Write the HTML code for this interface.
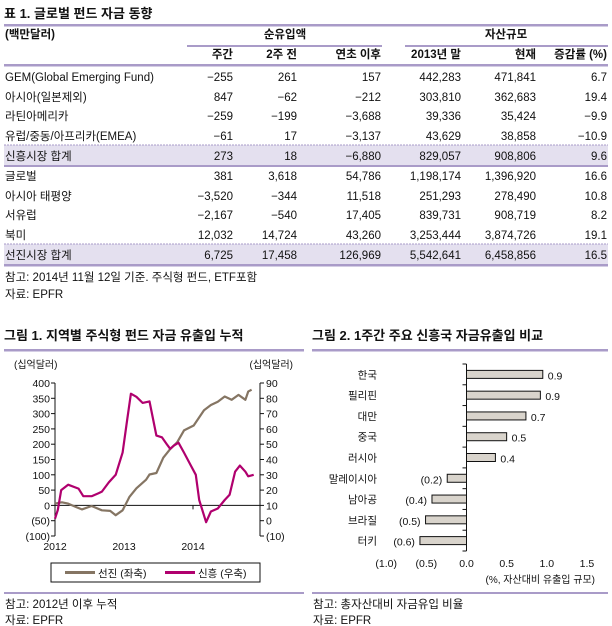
<!DOCTYPE html>
<html><head><meta charset="utf-8">
<style>
body{margin:0;background:#fff;}
svg{display:block;font-family:"Liberation Sans","Noto Sans CJK KR",sans-serif;}
.t{font-size:11.5px;fill:#111;}
.b{font-weight:bold;}
</style></head>
<body>
<svg id="page" width="612" height="626" viewBox="0 0 612 626" xmlns="http://www.w3.org/2000/svg">
<g id="table">
  <text x="4" y="18" class="t b" style="font-size:13px">표 1. 글로벌 펀드 자금 동향</text>
  <rect x="4" y="24" width="604" height="2.5" fill="#a99bc8"/>
  <text x="5" y="38" class="t b">(백만달러)</text>
  <text x="285" y="38" class="t b" text-anchor="middle">순유입액</text>
  <text x="506" y="38" class="t b" text-anchor="middle">자산규모</text>
  <rect x="187" y="45" width="195" height="2" fill="#a99bc8"/>
  <rect x="405" y="45" width="203" height="2" fill="#a99bc8"/>
  <rect x="4" y="64" width="604" height="2.5" fill="#a99bc8"/>
  <rect x="4" y="145" width="604" height="20" fill="#e4e0ef"/>
  <rect x="4" y="244" width="604" height="20" fill="#e4e0ef"/>
  <line x1="4" y1="145" x2="608" y2="145" stroke="#a99bc8" stroke-width="1" stroke-dasharray="2,1"/>
  <rect x="4" y="165" width="604" height="2" fill="#a99bc8"/>
  <line x1="4" y1="244" x2="608" y2="244" stroke="#a99bc8" stroke-width="1" stroke-dasharray="2,1"/>
  <rect x="4" y="264" width="604" height="2.5" fill="#a99bc8"/>
  <text x="5" y="281" class="t">참고: 2014년 11월 12일 기준. 주식형 펀드, ETF포함</text>
  <text x="5" y="298" class="t">자료: EPFR</text>
</g>
<g id="chart1">
  <text x="4" y="340" class="t b" style="font-size:13px">그림 1. 지역별 주식형 펀드 자금 유출입 누적</text>
  <rect x="4" y="349" width="300" height="2.5" fill="#a99bc8"/>
  <text x="14" y="368" class="t" style="font-size:10px">(십억달러)</text>
  <text x="293" y="368" class="t" style="font-size:10px" text-anchor="end">(십억달러)</text>
  <g id="c1axes"></g>
  <rect x="51" y="563" width="209" height="19" fill="#fff" stroke="#111" stroke-width="1"/>
  <line x1="65" y1="572.5" x2="95" y2="572.5" stroke="#857563" stroke-width="3"/>
  <text x="98" y="577" class="t" style="font-size:10.5px">선진 (좌축)</text>
  <line x1="165" y1="572.5" x2="195" y2="572.5" stroke="#b0006e" stroke-width="3"/>
  <text x="198" y="577" class="t" style="font-size:10.5px">신흥 (우축)</text>
  <rect x="4" y="592" width="300" height="2" fill="#a99bc8"/>
  <text x="5" y="608" class="t">참고: 2012년 이후 누적</text>
  <text x="5" y="624" class="t">자료: EPFR</text>
</g>
<g id="chart2">
  <text x="312" y="340" class="t b" style="font-size:13px">그림 2. 1주간 주요 신흥국 자금유출입 비교</text>
  <rect x="312" y="349" width="296" height="2.5" fill="#a99bc8"/>
  <g id="c2"></g>
  <text x="595" y="583" class="t" style="font-size:10px" text-anchor="end">(%, 자산대비 유출입 규모)</text>
  <rect x="312" y="592" width="296" height="2" fill="#a99bc8"/>
  <text x="313" y="608" class="t">참고: 총자산대비 자금유입 비율</text>
  <text x="313" y="624" class="t">자료: EPFR</text>
</g>
</svg>
<script>
const NS="http://www.w3.org/2000/svg";
// ---- table data ----
const rowLabels=["GEM(Global Emerging Fund)","아시아(일본제외)","라틴아메리카","유럽/중동/아프리카(EMEA)","신흥시장 합계","글로벌","아시아 태평양","서유럽","북미","선진시장 합계"];
const colHeaders=["주간","2주 전","연초 이후","2013년 말","현재","증감률 (%)"];
const tableValues=[
["−255","261","157","442,283","471,841","6.7"],
["847","−62","−212","303,810","362,683","19.4"],
["−259","−199","−3,688","39,336","35,424","−9.9"],
["−61","17","−3,137","43,629","38,858","−10.9"],
["273","18","−6,880","829,057","908,806","9.6"],
["381","3,618","54,786","1,198,174","1,396,920","16.6"],
["−3,520","−344","11,518","251,293","278,490","10.8"],
["−2,167","−540","17,405","839,731","908,719","8.2"],
["12,032","14,724","43,260","3,253,444","3,874,726","19.1"],
["6,725","17,458","126,969","5,542,641","6,458,856","16.5"]];
const colRight=[233,297,381,461,536,607];
const rowY=[81,101,120,140,160,180,200,219,239,259];
function txt(parent,x,y,s,anchor,cls,size){
  const t=document.createElementNS(NS,"text");
  t.setAttribute("x",x);t.setAttribute("y",y);
  t.setAttribute("class",cls||"t");
  if(anchor)t.setAttribute("text-anchor",anchor);
  if(size)t.style.fontSize=size+"px";
  t.textContent=s;parent.appendChild(t);return t;
}
const tbl=document.getElementById("table");
colHeaders.forEach((h,i)=>{
  const t=txt(tbl,colRight[i],58,h,"end","t b");
  
  
});
rowLabels.forEach((r,i)=>{
  const t=txt(tbl,5,rowY[i],r,null,"t");
  
  
  tableValues[i].forEach((v,j)=>{
    const c=txt(tbl,colRight[j],rowY[i],v,"end","t");
    
    
  });
});
// ---- chart 1 data ----
const dmYears=[2012.00,2012.10,2012.19,2012.30,2012.39,2012.53,2012.68,2012.80,2012.88,2012.98,2013.08,2013.18,2013.32,2013.37,2013.47,2013.57,2013.67,2013.77,2013.87,2014.01,2014.16,2014.26,2014.36,2014.46,2014.56,2014.66,2014.76,2014.80,2014.85];
const dmValues=[6,10,6,-5,-13,-2,-16,-18,-32,-16,28,56,84,101,106,156,184,206,245,261,311,328,339,356,345,361,345,372,378];
const emYears=[2012.00,2012.04,2012.09,2012.19,2012.34,2012.41,2012.53,2012.63,2012.68,2012.78,2012.88,2012.98,2013.05,2013.10,2013.18,2013.27,2013.37,2013.47,2013.55,2013.62,2013.67,2013.72,2013.79,2013.87,2013.97,2014.04,2014.09,2014.19,2014.26,2014.36,2014.46,2014.53,2014.61,2014.68,2014.76,2014.80,2014.88];
const emValues=[1.3,7,20,23.5,21,16,16,18,19,25,30,44.5,67,83,81,77,78,55.6,54.5,50,47,49,51,44.5,36,30,13.5,-1,6,8,13.5,17,32,36,32,29,30];
const leftTicks=["400","350","300","250","200","150","100","50","0","(50)","(100)"];
const rightTicks=["90","80","70","60","50","40","30","20","10","0","(10)"];
const yearLabels=["2012","2013","2014"];
const X0=55,X1=260,YT=383,YB=536;
const xS=y=>X0+(y-2012)*69;
const yL=v=>YT+(400-v)*(YB-YT)/500;
const yR=v=>YT+(90-v)*(YB-YT)/100;
const ax=document.getElementById("c1axes");
function ln(p,x1,y1,x2,y2,col,w){const l=document.createElementNS(NS,"line");
  l.setAttribute("x1",x1);l.setAttribute("y1",y1);l.setAttribute("x2",x2);l.setAttribute("y2",y2);
  l.setAttribute("stroke",col||"#111");l.setAttribute("stroke-width",w||1);p.appendChild(l);return l;}
let a=ln(ax,X0,YT,X0,YB);


a=ln(ax,X1,YT,X1,YB);


a=ln(ax,X0,yL(0),X1,yL(0));


leftTicks.forEach((s,i)=>{const y=YT+i*(YB-YT)/10;
  ln(ax,X0-4,y,X0,y);
  const t=txt(ax,X0-5,y+4,s,"end","t",10.5);
  
  });
rightTicks.forEach((s,i)=>{const y=YT+i*(YB-YT)/10;
  ln(ax,X1,y,X1+4,y);
  const t=txt(ax,X1+6,y+4,s,"start","t",10.5);
  
  });
yearLabels.forEach((s,i)=>{const x=xS(2012+i);
  ln(ax,x,yL(0),x,yL(0)+4);
  const t=txt(ax,x,YB+14,s,"middle","t",10.5);
  
  });
function series(xs,vs,yf,col,name){
  const p=document.createElementNS(NS,"polyline");
  p.setAttribute("points",xs.map((x,i)=>xS(x).toFixed(1)+","+yf(vs[i]).toFixed(1)).join(" "));
  p.setAttribute("fill","none");p.setAttribute("stroke",col);p.setAttribute("stroke-width","2.2");
  p.setAttribute("stroke-linejoin","round");
  
  
  ax.appendChild(p);}
series(dmYears,dmValues,yL,"#857563","developed-line");
series(emYears,emValues,yR,"#b0006e","emerging-line");
// ---- chart 2 data ----
const countries=["한국","필리핀","대만","중국","러시아","말레이시아","남아공","브라질","터키"];
const flowValues=[0.95,0.92,0.74,0.5,0.36,-0.24,-0.43,-0.51,-0.58];
const flowLabels=["0.9","0.9","0.7","0.5","0.4","(0.2)","(0.4)","(0.5)","(0.6)"];
const xTicks=[-1,-0.5,0,0.5,1,1.5];
const xTickLabels=["(1.0)","(0.5)","0.0","0.5","1.0","1.5"];
const c2=document.getElementById("c2");
const bx=v=>466.5+v*80.3;
const T2=364,B2=551,step=(B2-T2)/9;
a=ln(c2,bx(0),T2,bx(0),B2);


for(let i=0;i<=9;i++){ln(c2,bx(0)-4,T2+i*step,bx(0),T2+i*step);}
countries.forEach((c,i)=>{
  const cy=T2+(i+0.5)*step,v=flowValues[i];
  const r=document.createElementNS(NS,"rect");
  r.setAttribute("x",Math.min(bx(0),bx(v)));r.setAttribute("y",cy-4);
  r.setAttribute("width",Math.abs(bx(v)-bx(0)));r.setAttribute("height",8);
  r.setAttribute("fill","#d9d4cc");r.setAttribute("stroke","#111");r.setAttribute("stroke-width","1");
  
  
  c2.appendChild(r);
  const t=txt(c2,377,cy+4,c,"end","t",10.5);
  
  
  const vl=v>=0?txt(c2,bx(v)+5,cy+5,flowLabels[i],"start","t",10.5):txt(c2,bx(v)-5,cy+5,flowLabels[i],"end","t",10.5);
  
  
});
xTicks.forEach((v,i)=>{
  const t=txt(c2,bx(v),567,xTickLabels[i],"middle","t",10.5);
  
  
});
</script>
</body></html>
